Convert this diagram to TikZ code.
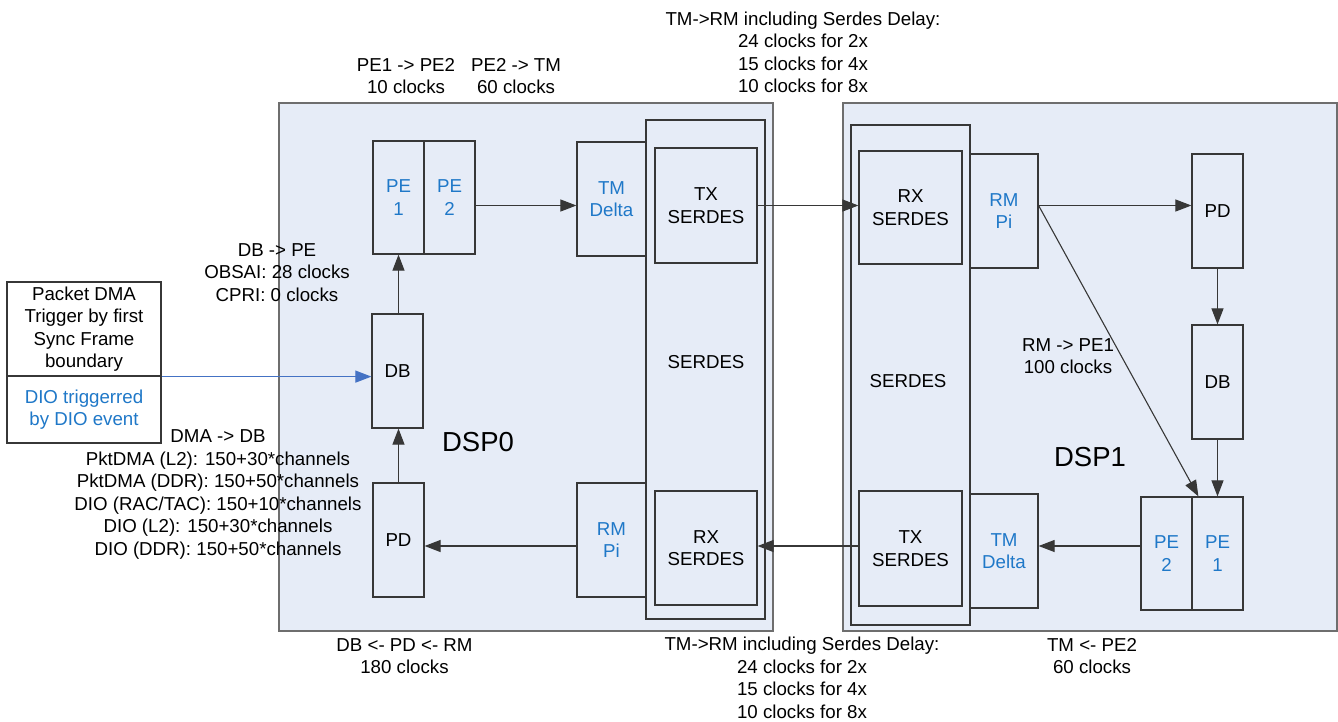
\documentclass[tikz,border=0pt]{standalone}
\usepackage{fontspec}
\setmainfont{Liberation Sans}
\usetikzlibrary{arrows.meta}
\definecolor{boxfill}{RGB}{230,236,247}
\definecolor{dspline}{RGB}{110,110,110}
\definecolor{boxline}{RGB}{55,55,55}
\definecolor{bluetext}{RGB}{31,120,200}
\definecolor{bluearrow}{RGB}{68,114,196}
\tikzset{
  dsp/.style={draw=dspline, fill=boxfill, line width=1.4pt, inner sep=0pt},
  blk/.style={draw=boxline, fill=boxfill, line width=1.2pt, inner sep=0pt, align=center},
  bluetxt/.style={text=bluetext},
  lbl/.style={align=center, inner sep=0pt},
  flow/.style={draw=boxline, line width=1.1pt, -{Triangle[length=16pt,width=12pt]}},
}
\begin{document}
\begin{tikzpicture}[x=1pt,y=-1pt,font=\fontsize{18.7}{22.5}\selectfont]
\useasboundingbox (0,0) rectangle (1338,721);

% processor outlines
\node[dsp, minimum width=494pt, minimum height=528pt] (dsp0) at (526,367) {};
\node[dsp, minimum width=494pt, minimum height=528pt] (dsp1) at (1090,367) {};

% SerDes blocks
\node[blk, minimum width=119pt, minimum height=499pt] (ser0) at (705.5,369.5) {};
\node[blk, minimum width=119pt, minimum height=500pt] (ser1) at (910.5,375) {};
\node[lbl] (ser0lbl) at (706,362) {SERDES};
\node[lbl] (ser1lbl) at (908,381) {SERDES};

\node[blk, minimum width=102pt, minimum height=115pt] (tx0) at (706,205.5) {TX\\SERDES};
\node[blk, minimum width=102pt, minimum height=114pt] (rx0) at (706,548) {RX\\SERDES};
\node[blk, minimum width=103pt, minimum height=113pt] (rx1) at (910.5,207.5) {RX\\SERDES};
\node[blk, minimum width=103pt, minimum height=115pt] (tx1) at (910.5,548.5) {TX\\SERDES};

% DSP0 processing blocks
\node[blk, bluetxt, minimum width=69pt, minimum height=114pt] (tm0) at (611.5,199) {TM\\Delta};
\node[blk, bluetxt, minimum width=69pt, minimum height=114pt] (rm0) at (611.5,540) {RM\\Pi};
\node[blk, bluetxt, minimum width=51pt, minimum height=113pt] (pe1a) at (398.5,197.5) {PE\\1};
\node[blk, bluetxt, minimum width=51pt, minimum height=113pt] (pe2a) at (449.5,197.5) {PE\\2};
\node[blk, minimum width=51pt, minimum height=114pt] (db0) at (397.5,371) {DB};
\node[blk, minimum width=51pt, minimum height=114pt] (pd0) at (398.5,540) {PD};

% DSP1 processing blocks
\node[blk, bluetxt, minimum width=68pt, minimum height=114pt] (rm1) at (1004,211) {RM\\Pi};
\node[blk, bluetxt, minimum width=68pt, minimum height=114pt] (tm1) at (1004,551) {TM\\Delta};
\node[blk, minimum width=51pt, minimum height=114pt] (pd1) at (1217.5,211) {PD};
\node[blk, minimum width=51pt, minimum height=114pt] (db1) at (1217.5,382) {DB};
\node[blk, bluetxt, minimum width=51pt, minimum height=113pt] (pe2b) at (1166.5,553.5) {PE\\2};
\node[blk, bluetxt, minimum width=51pt, minimum height=113pt] (pe1b) at (1217.5,553.5) {PE\\1};

% trigger box
\node[draw=boxline, fill=white, line width=1.2pt, inner sep=0pt, minimum width=154pt, minimum height=94pt, align=center] (trig) at (84,329) {Packet DMA\\Trigger by first\\Sync Frame\\boundary};
\node[draw=boxline, fill=white, line width=1.2pt, inner sep=0pt, minimum width=154pt, minimum height=67pt, align=center, bluetxt] (dio) at (84,409.5) {DIO triggerred\\by DIO event};

% data flow
\draw[flow] (pd0.north) -- (db0.south -| pd0.north);
\draw[flow] (db0.north -| pe1a.south) -- (pe1a.south);
\draw[flow] (pe2a.east |- tx0.center) -- (tm0.west |- tx0.center);
\draw[flow] (tx0.east) -- (rx1.west |- tx0.east);
\draw[flow] (rm1.east |- tx0.east) -- (pd1.west |- tx0.east);
\draw[flow] (rm1.east |- tx0.east) -- ([xshift=7pt]pe1b.north west);
\draw[flow] (pd1.south) -- (db1.north);
\draw[flow] (db1.south) -- (pe1b.north);
\draw[flow] (pe2b.west |- 0,546) -- (tm1.east |- 0,546);
\draw[flow] (tx1.west |- 0,546) -- (rx0.east |- 0,546);
\draw[flow] (rm0.west |- 0,546) -- (pd0.east |- 0,546);
\draw[line width=1.1pt, draw=bluearrow, -{Triangle[length=16pt,width=12pt]}, bluearrow] (trig.south east) -- (trig.south east -| db0.west);

% latency annotations
\node[lbl] (l1) at (406,76) {PE1 -> PE2\\10 clocks};
\node[lbl] (l2) at (516,76) {PE2 -> TM\\60 clocks};
\node[lbl] (l3) at (803,52.5) {TM->RM including Serdes Delay:\\24 clocks for 2x\\15 clocks for 4x\\10 clocks for 8x};
\node[lbl] (l4) at (277,272.5) {DB -> PE\\OBSAI: 28 clocks\\CPRI: 0 clocks};
\node[lbl] (l5) at (218,494.5) {DMA -> DB\\PktDMA (L2): 150+30*channels\\PktDMA (DDR): 150+50*channels\\DIO (RAC/TAC): 150+10*channels\\DIO (L2): 150+30*channels\\DIO (DDR): 150+50*channels};
\node[lbl] (l6) at (1068,356) {RM -> PE1\\100 clocks};
\node[lbl] (l7) at (404.5,656) {DB <- PD <- RM\\180 clocks};
\node[lbl] (l8) at (802,678) {TM->RM including Serdes Delay:\\24 clocks for 2x\\15 clocks for 4x\\10 clocks for 8x};
\node[lbl] (l9) at (1092,656) {TM <- PE2\\60 clocks};

\node[lbl, font=\fontsize{27.5}{30}\selectfont] (dsp0lbl) at (478,442) {DSP0};
\node[lbl, font=\fontsize{27.5}{30}\selectfont] (dsp1lbl) at (1090,457) {DSP1};
\end{tikzpicture}
\end{document}
